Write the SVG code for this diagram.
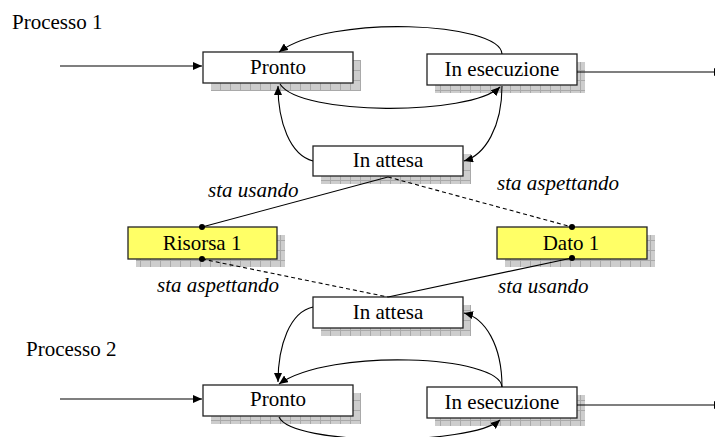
<svg xmlns="http://www.w3.org/2000/svg" width="715" height="437" viewBox="0 0 715 437">
<defs>
<pattern id="grid" width="10" height="10" patternUnits="userSpaceOnUse">
<rect width="10" height="10" fill="#cdcdcd"/>
<path d="M0,0.5 H10 M0.5,0 V10" stroke="#a9a9a9" stroke-width="1" fill="none"/>
</pattern>
<marker id="arr" markerWidth="9" markerHeight="8" refX="9" refY="4" orient="auto" markerUnits="userSpaceOnUse">
<path d="M0,0 L9,4 L0,8 Z" fill="#000"/>
</marker>
<style>
.shadow{fill:url(#grid);stroke:none}
.box{fill:#fff;stroke:#222;stroke-width:1.3}
.res{fill:#ffff66;stroke:#222;stroke-width:1.3}
.lbl{font-size:21px;fill:#000}
.c{text-anchor:middle}
.it{font-style:italic}
.edge{fill:none;stroke:#000;stroke-width:1.1}
.arrow{marker-end:url(#arr)}
.dash{stroke-dasharray:4 3}
.dot{fill:#000}
</style>
</defs>
<rect width="715" height="437" fill="#fff"/>
<g font-family="Liberation Serif, Times New Roman, DejaVu Serif, serif">
<text class="lbl" x="12" y="29">Processo 1</text>
<text class="lbl" x="26" y="356">Processo 2</text>
<g id="pronto1"><rect class="shadow" x="211" y="60" width="150" height="31"/><rect class="box" x="203" y="52" width="150" height="31"/><text class="lbl c" x="278" y="74">Pronto</text></g>
<g id="esecuzione1"><rect class="shadow" x="435" y="62" width="150" height="31"/><rect class="box" x="427" y="54" width="150" height="31"/><text class="lbl c" x="502" y="76">In esecuzione</text></g>
<g id="attesa1"><rect class="shadow" x="321" y="154" width="150" height="30"/><rect class="box" x="313" y="146" width="150" height="30"/><text class="lbl c" x="388" y="167">In attesa</text></g>
<g id="risorsa1"><rect class="shadow" x="136" y="235" width="149" height="32"/><rect class="res" x="128" y="227" width="149" height="32"/><text class="lbl c" x="202" y="250">Risorsa 1</text></g>
<g id="dato1"><rect class="shadow" x="505" y="235" width="150" height="32"/><rect class="res" x="497" y="227" width="150" height="32"/><text class="lbl c" x="571" y="250">Dato 1</text></g>
<g id="attesa2"><rect class="shadow" x="321" y="305" width="150" height="31"/><rect class="box" x="313" y="297" width="150" height="31"/><text class="lbl c" x="388" y="319">In attesa</text></g>
<g id="pronto2"><rect class="shadow" x="211" y="393" width="150" height="31"/><rect class="box" x="203" y="385" width="150" height="31"/><text class="lbl c" x="278" y="406">Pronto</text></g>
<g id="esecuzione2"><rect class="shadow" x="435" y="395" width="150" height="31"/><rect class="box" x="427" y="387" width="150" height="31"/><text class="lbl c" x="502" y="409">In esecuzione</text></g>
<g id="labels">
<text class="lbl it" x="208" y="197">sta usando</text>
<text class="lbl it" x="497" y="190">sta aspettando</text>
<text class="lbl it" x="157" y="292">sta aspettando</text>
<text class="lbl it" x="498" y="293">sta usando</text>
</g>
</g>
<g id="connectors">
<path class="edge arrow" d="M60,66 L202,66"/>
<path class="edge arrow" d="M577,72 L723,72"/>
<path class="edge arrow" d="M502,54 C500,22 330,14 279,52"/>
<path class="edge arrow" d="M280,84 C300,116 470,116 500,87"/>
<path class="edge arrow" d="M313,161 C290,155 278,122 278,86"/>
<path class="edge arrow" d="M502,86 C502,127 485,155 464,161"/>
<path class="edge arrow" d="M60,399 L202,399"/>
<path class="edge arrow" d="M577,405 L723,405"/>
<path class="edge arrow" d="M502,387 C500,355 330,348 279,384"/>
<path class="edge arrow" d="M279,417 C292,446 470,446 500,420"/>
<path class="edge arrow" d="M313,307 C290,312 278,345 278,382"/>
<path class="edge arrow" d="M502,387 C502,345 485,318 464,313"/>
<path class="edge" d="M388,177 L202,227"/>
<path class="edge dash" d="M388,177 L572,227"/>
<path class="edge dash" d="M202,259 L388,297"/>
<path class="edge" d="M572,258 L388,297"/>
<circle class="dot" cx="202" cy="227" r="3"/>
<circle class="dot" cx="572" cy="227" r="3"/>
<circle class="dot" cx="202" cy="259" r="3"/>
<circle class="dot" cx="572" cy="258" r="3"/>
</g>
</svg>
